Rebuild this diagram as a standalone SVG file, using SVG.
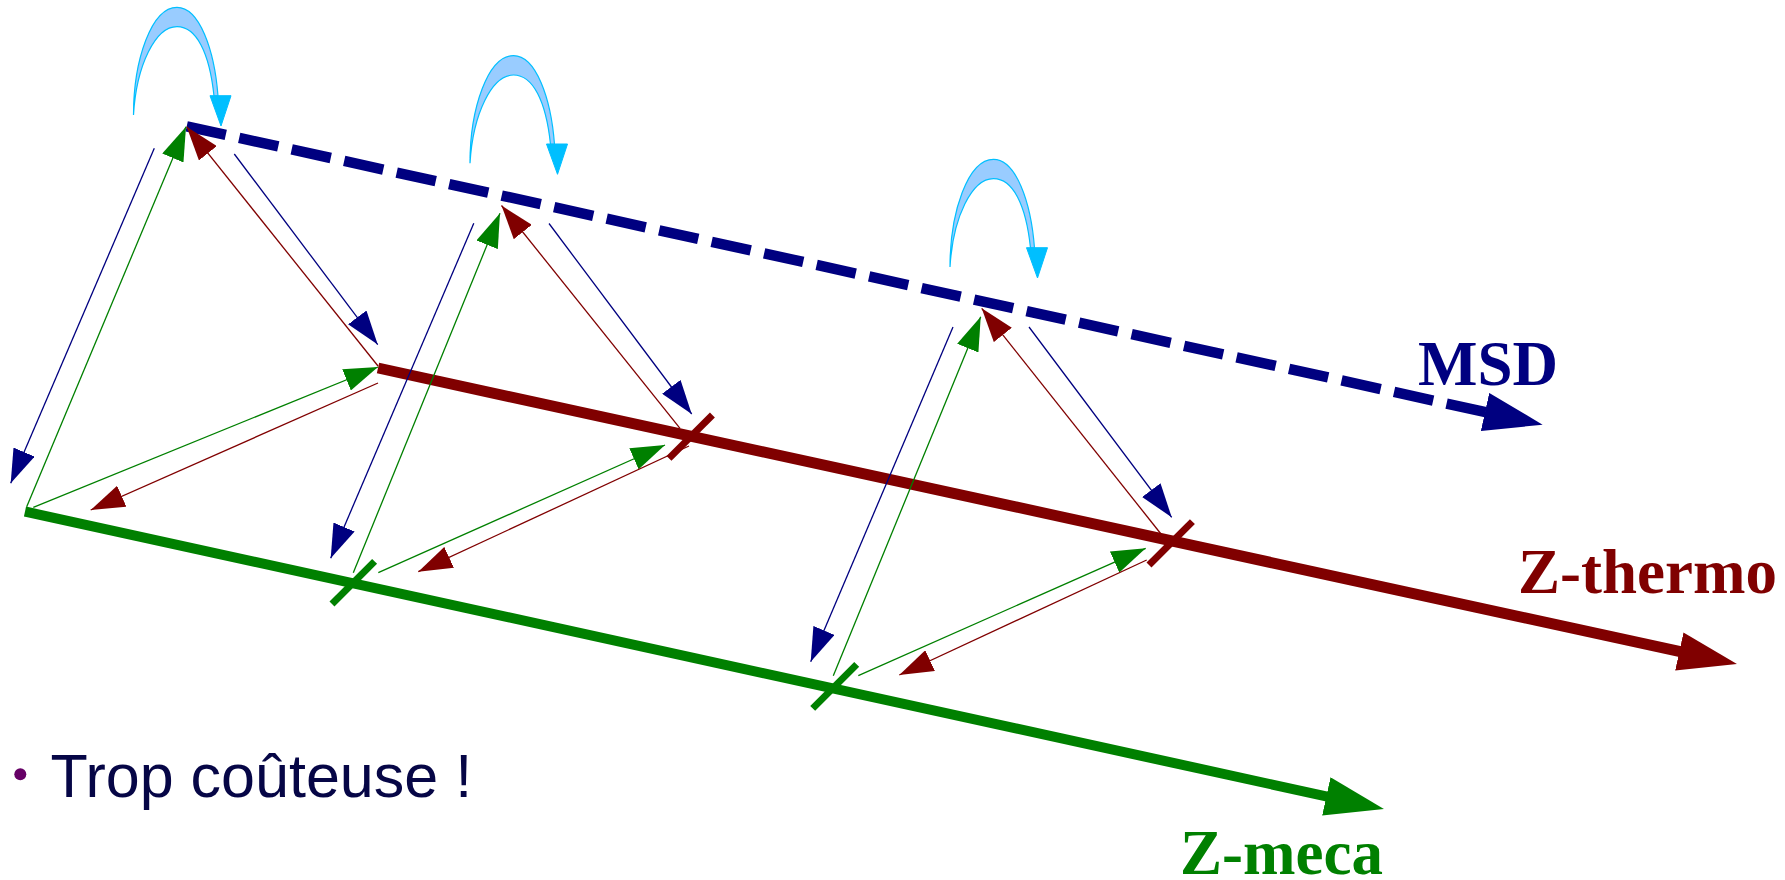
<svg xmlns="http://www.w3.org/2000/svg" width="1785" height="880" viewBox="0 0 1785 880">
<style>
.thin{fill:none;stroke-width:1.3}
.nv{stroke:#000080}
.gr{stroke:#008000}
.mr{stroke:#800000}
.lbl{font-family:"Liberation Serif","Times New Roman",serif;font-weight:bold;font-size:63px}
.bub{fill:#99ccff;stroke:#00bfff;stroke-width:1.2}
.bubh{fill:#00bfff;stroke:#00bfff;stroke-width:1}
.tick{stroke-width:7;fill:none}
</style>
<defs>
<marker id="aB" markerUnits="userSpaceOnUse" viewBox="0 0 34 23" markerWidth="34" markerHeight="23" refX="34" refY="11.5" orient="auto"><path d="M0,0 L34,11.5 L0,23 z" fill="#000080"/></marker>
<marker id="aG" markerUnits="userSpaceOnUse" viewBox="0 0 34 23" markerWidth="34" markerHeight="23" refX="34" refY="11.5" orient="auto"><path d="M0,0 L34,11.5 L0,23 z" fill="#008000"/></marker>
<marker id="aR" markerUnits="userSpaceOnUse" viewBox="0 0 34 23" markerWidth="34" markerHeight="23" refX="34" refY="11.5" orient="auto"><path d="M0,0 L34,11.5 L0,23 z" fill="#800000"/></marker>
<marker id="AB" markerUnits="userSpaceOnUse" viewBox="0 0 59 39" markerWidth="59" markerHeight="39" refX="1" refY="19.5" orient="auto"><path d="M0,0 L59,19.5 L0,39 z" fill="#000080"/></marker>
<marker id="AR" markerUnits="userSpaceOnUse" viewBox="0 0 59 39" markerWidth="59" markerHeight="39" refX="1" refY="19.5" orient="auto"><path d="M0,0 L59,19.5 L0,39 z" fill="#800000"/></marker>
<marker id="AG" markerUnits="userSpaceOnUse" viewBox="0 0 59 39" markerWidth="59" markerHeight="39" refX="1" refY="19.5" orient="auto"><path d="M0,0 L59,19.5 L0,39 z" fill="#008000"/></marker>
<g id="bubble">
<path class="bub" d="M0,0 C0,-55 18,-107.7 43.5,-107.7 C66,-107.7 81,-65 84.5,-19 L80.5,-19 C76,-62 63,-88.3 43.5,-88.3 C22,-88.3 3,-50 0,0 Z"/>
<path class="bubh" d="M76.5,-19.3 L97.5,-19.3 L87.5,11 Z"/>
</g>
</defs>

<g id="axis-msd">
<path d="M186.7,126.3 L1486,412.2" fill="none" stroke="#000080" stroke-width="10.5" stroke-dasharray="40 13.75" marker-end="url(#AB)"/>
<text class="lbl" x="1418" y="385" fill="#000080">MSD</text>
</g>
<g id="axis-thermo">
<path d="M378,368 L1680.3,651.7" fill="none" stroke="#800000" stroke-width="11" marker-end="url(#AR)"/>
<path class="tick mr" d="M712.4,415 L669,458.4"/>
<path class="tick mr" d="M1192.4,521.6 L1149,565"/>
<text class="lbl" x="1518" y="593" fill="#800000">Z-thermo</text>
</g>
<g id="axis-meca">
<path d="M25,511.5 L1327.3,796.6" fill="none" stroke="#008000" stroke-width="10" marker-end="url(#AG)"/>
<path class="tick gr" d="M374.6,561.4 L332,604"/>
<path class="tick gr" d="M856.7,664.4 L812.7,708.4"/>
<text class="lbl" x="1180" y="874" fill="#008000">Z-meca</text>
</g>

<g id="loop1"><use href="#bubble" transform="translate(133.5,115)"/></g>
<g id="loop2"><use href="#bubble" transform="translate(470,163.3)"/></g>
<g id="loop3"><use href="#bubble" transform="translate(950,267)"/></g>

<g id="connectors">
<path class="thin nv" d="M154.3,148.3 L10.7,483.3" marker-end="url(#aB)"/>
<path class="thin nv" d="M234.3,154 L377.7,344.6" marker-end="url(#aB)"/>
<path class="thin nv" d="M473.8,223.2 L330.7,558.3" marker-end="url(#aB)"/>
<path class="thin nv" d="M549,223.5 L691.7,414" marker-end="url(#aB)"/>
<path class="thin nv" d="M953,327 L810.7,661.7" marker-end="url(#aB)"/>
<path class="thin nv" d="M1029,327 L1171.7,517.3" marker-end="url(#aB)"/>
<path class="thin gr" d="M26.7,506.7 L186,126.7" marker-end="url(#aG)"/>
<path class="thin gr" d="M33.3,507.3 L378,367" marker-end="url(#aG)"/>
<path class="thin gr" d="M353.3,572.7 L500,213.3" marker-end="url(#aG)"/>
<path class="thin gr" d="M378.3,572.7 L665,445" marker-end="url(#aG)"/>
<path class="thin gr" d="M833.3,675.7 L980.7,316.7" marker-end="url(#aG)"/>
<path class="thin gr" d="M858.3,675.7 L1145.7,548.3" marker-end="url(#aG)"/>
<path class="thin mr" d="M378,366 L186.7,126.7" marker-end="url(#aR)"/>
<path class="thin mr" d="M378,383 L90.7,510" marker-end="url(#aR)"/>
<path class="thin mr" d="M680,428.3 L501.5,205.5" marker-end="url(#aR)"/>
<path class="thin mr" d="M689,446 L418.3,571.7" marker-end="url(#aR)"/>
<path class="thin mr" d="M1161,534 L981.7,308.3" marker-end="url(#aR)"/>
<path class="thin mr" d="M1146.7,560 L899.3,675" marker-end="url(#aR)"/>
</g>

<g id="note">
<circle cx="20.3" cy="774.2" r="6" fill="#660066"/>
<text x="50.5" y="797.3" font-family="Liberation Sans, Arial, sans-serif" font-size="61" fill="#060646">Trop coûteuse !</text>
</g>
</svg>
